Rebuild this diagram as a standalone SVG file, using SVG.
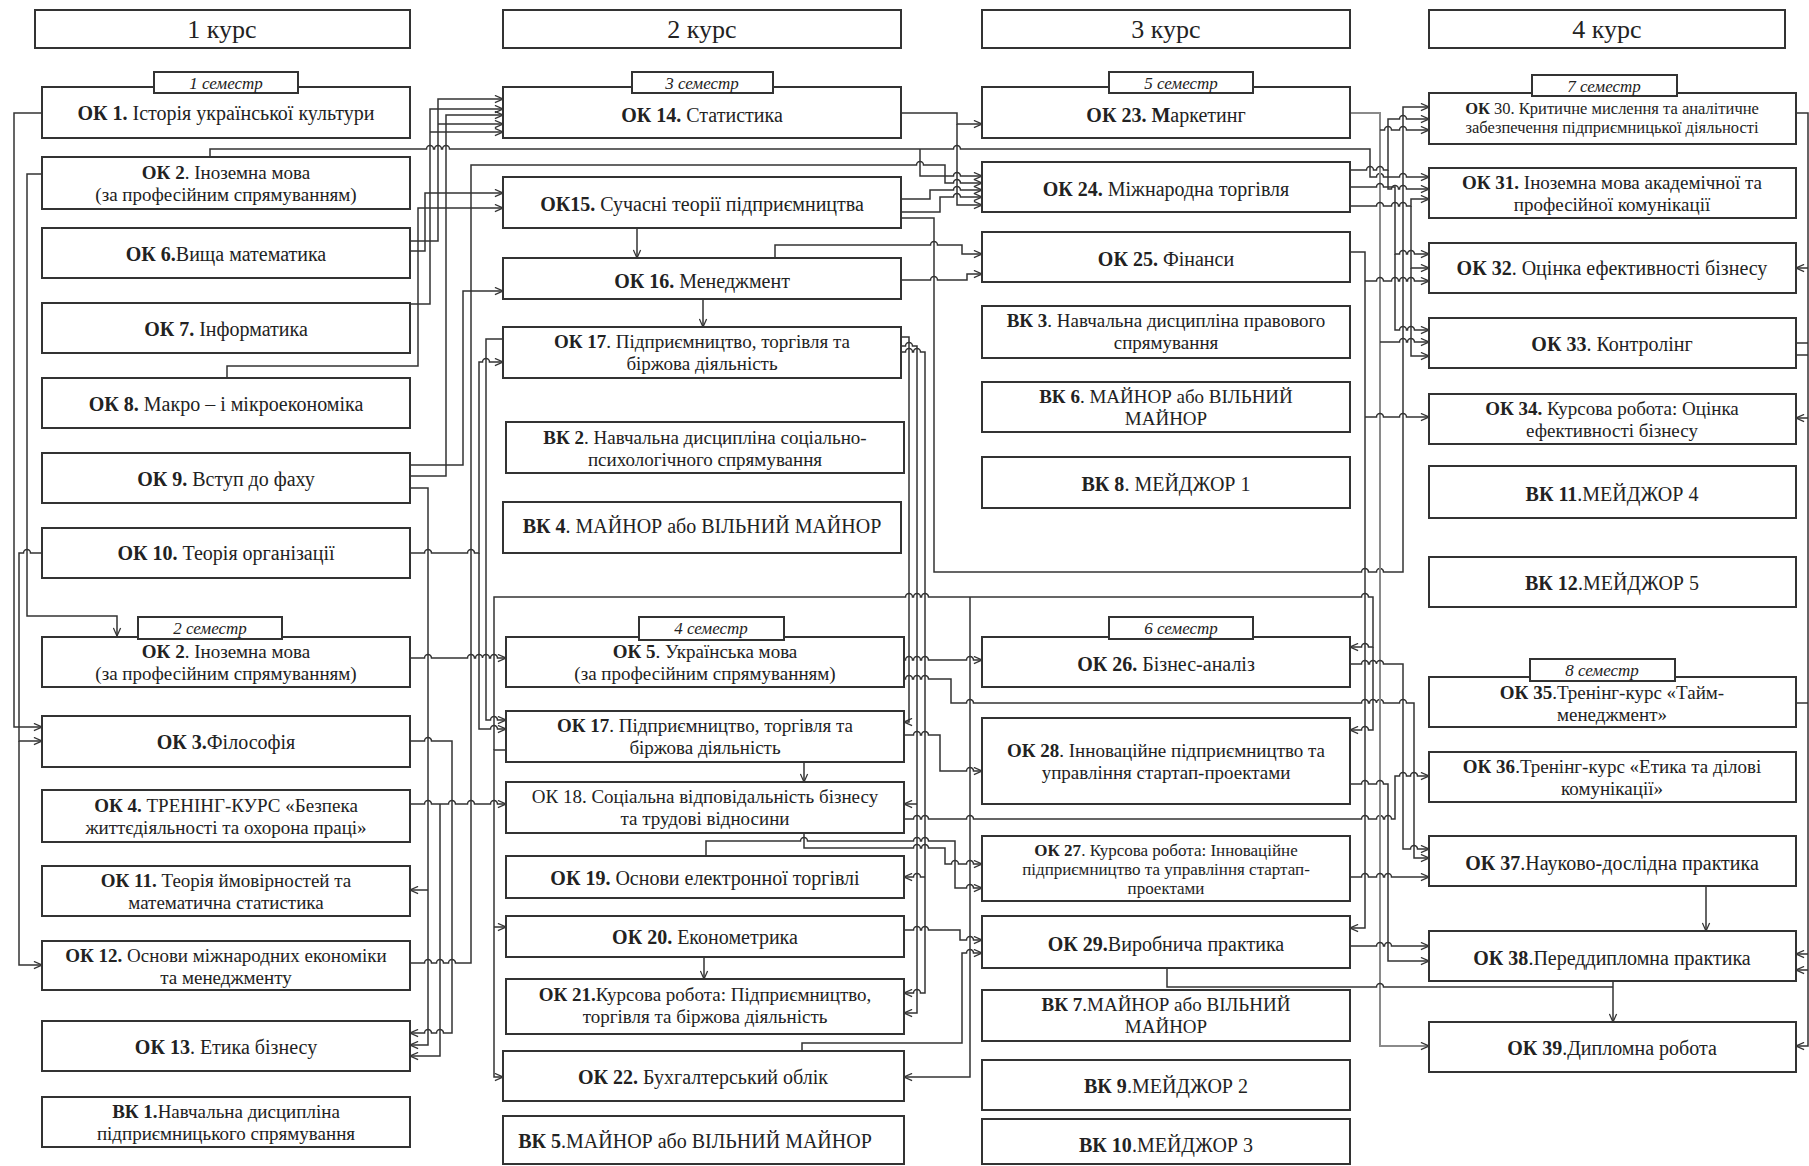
<svg xmlns="http://www.w3.org/2000/svg" width="1809" height="1166" viewBox="0 0 1809 1166">
<style>
.b{fill:#fff;stroke:#333;stroke-width:2}
.t{font-family:"Liberation Serif","Times New Roman",serif;font-size:20px;fill:#222;text-anchor:middle;dominant-baseline:central}
.d{font-size:19px}
.h{font-size:26px}
.s{font-style:italic;font-size:17px}
.m{font-size:17px}
.xs{font-size:16.5px}
.k{font-weight:bold}
.c{fill:none;stroke:#333;stroke-width:1.5}
.g{stroke:#8a8a8a;stroke-width:2}
.a{marker-end:url(#ar)}
</style>
<defs>
<marker id="ar" viewBox="0 0 10 10" refX="10" refY="5" markerWidth="9" markerHeight="9" markerUnits="userSpaceOnUse" orient="auto"><path d="M1,1 L10,5 L1,9" fill="none" stroke="#333" stroke-width="1.4"/></marker>
</defs>
<rect width="1809" height="1166" fill="#fff"/>

<g id="connectors">
<!-- left of column 1 -->
<path class="c a" d="M42,113 H14 V727 H42"/>
<path class="c a" d="M42,174 H27 V616 H117 V636"/>
<path class="c a" d="M42,553 H30.5 a3.5,3.5 0 0 0 -7,0 H19 V741 H42"/>
<path class="c a" d="M19,741 V965 H42"/>
<!-- gap column 1 / column 2 -->
<path class="c a" d="M410,241 H438 V99 H503"/>
<path class="c a" d="M438,124 H503"/>
<path class="c a" d="M410,251 H425 V193 H503"/>
<path class="c a" d="M410,304 H430 V109 H503"/>
<path class="c a" d="M430,132 H503"/>
<path class="c a" d="M227,378 V366 H418 V208 H503"/>
<path class="c a" d="M410,465 H463 V291 H503"/>
<path class="c a" d="M410,476 H446 V115 H503"/>
<path class="c a" d="M410,488 H428 V1045 H410"/>
<path class="c a" d="M428,890 H410"/>
<path class="c a" d="M410,553 H424.5 a3.5,3.5 0 0 1 7,0 H467.5 a3.5,3.5 0 0 1 7,0 H479 V362 H482.5 a3.5,3.5 0 0 1 7,0 H503"/>
<path class="c a" d="M479,553 V729 H490.5 a3.5,3.5 0 0 1 7,0 H506"/>
<path class="c a" d="M210,157 V149 H426.5 a3.5,3.5 0 0 1 7,0 H434.5 a3.5,3.5 0 0 1 7,0 H442.5 a3.5,3.5 0 0 1 7,0 H953.5 a3.5,3.5 0 0 1 7,0 H1370 V177 H1376.5 a3.5,3.5 0 0 1 7,0 H1399.5 a3.5,3.5 0 0 1 7,0 H1429"/>
<path class="c a" d="M410,963 H424.5 a3.5,3.5 0 0 1 7,0 H436.5 a3.5,3.5 0 0 1 7,0 H448.5 a3.5,3.5 0 0 1 7,0 H471 V165 H916.5 a3.5,3.5 0 0 1 7,0 H945 V183 H953.5 a3.5,3.5 0 0 1 7,0 H982"/>
<path class="c a" d="M410,658 H424.5 a3.5,3.5 0 0 1 7,0 H467.5 a3.5,3.5 0 0 1 7,0 H475.5 a3.5,3.5 0 0 1 7,0 H482.5 a3.5,3.5 0 0 1 7,0 H490.5 a3.5,3.5 0 0 1 7,0 H506"/>
<path class="c a" d="M410,741 H424.5 a3.5,3.5 0 0 1 7,0 H452 V1033 H443.5 a3.5,3.5 0 0 0 -7,0 H431.5 a3.5,3.5 0 0 0 -7,0 H410"/>
<path class="c a" d="M410,804 H424.5 a3.5,3.5 0 0 1 7,0 H448.5 a3.5,3.5 0 0 1 7,0 H467.5 a3.5,3.5 0 0 1 7,0 H490.5 a3.5,3.5 0 0 1 7,0 H506"/>
<path class="c a" d="M440,804 V1056 H410"/>
<path class="c a" d="M503,339 H486 V720 H490.5 a3.5,3.5 0 0 1 7,0 H506"/>
<path class="c a" d="M506,750 H494 V1077 H503"/>
<path class="c a" d="M494,927 H506"/>
<path class="c a" d="M494,750 V597 H905.5 a3.5,3.5 0 0 1 7,0 H913.5 a3.5,3.5 0 0 1 7,0 H921.5 a3.5,3.5 0 0 1 7,0 H1361.5 a3.5,3.5 0 0 1 7,0 H1373 V647 H1368.5 a3.5,3.5 0 0 0 -7,0 H1350"/>
<!-- inside column 2 -->
<path class="c a" d="M637,228 V258"/>
<path class="c a" d="M703,299 V327"/>
<path class="c a" d="M804,762 V782"/>
<path class="c a" d="M704,957 V979"/>
<!-- gap column 2 / column 3 -->
<path class="c a" d="M901,113 H957 V124 H982"/>
<path class="c a" d="M957,124 V205 H982"/>
<path class="c a" d="M920,149 V176 H953.5 a3.5,3.5 0 0 1 7,0 H982"/>
<path class="c a" d="M901,199 H930 V190 H953.5 a3.5,3.5 0 0 1 7,0 H982"/>
<path class="c a" d="M901,212 H940 V197 H953.5 a3.5,3.5 0 0 1 7,0 H982"/>
<path class="c a" d="M775,258 V245 H930.5 a3.5,3.5 0 0 1 7,0 H962 V254 H982"/>
<path class="c a" d="M901,280 H930.5 a3.5,3.5 0 0 1 7,0 H967 V274 H982"/>
<path class="c a" d="M901,337 H909 V722 H904"/>
<path class="c a" d="M901,346 H905.5 a3.5,3.5 0 0 1 7,0 H917 V1013 H904"/>
<path class="c a" d="M917,804 H904"/>
<path class="c a" d="M901,352 H905.5 a3.5,3.5 0 0 1 7,0 H913.5 a3.5,3.5 0 0 1 7,0 H925 V993 H920.5 a3.5,3.5 0 0 0 -7,0 H904"/>
<path class="c a" d="M925,877 H920.5 a3.5,3.5 0 0 0 -7,0 H904"/>
<path class="c a" d="M901,218 H934 V572 H1361.5 a3.5,3.5 0 0 1 7,0 H1376.5 a3.5,3.5 0 0 1 7,0 H1403 V107 H1429"/>
<path class="c a" d="M970,597 V1077 H904"/>
<path class="c a" d="M904,660 H905.5 a3.5,3.5 0 0 1 7,0 H913.5 a3.5,3.5 0 0 1 7,0 H921.5 a3.5,3.5 0 0 1 7,0 H966.5 a3.5,3.5 0 0 1 7,0 H982"/>
<path class="c a" d="M904,679 H905.5 a3.5,3.5 0 0 1 7,0 H913.5 a3.5,3.5 0 0 1 7,0 H921.5 a3.5,3.5 0 0 1 7,0 H951 V703 H966.5 a3.5,3.5 0 0 1 7,0 H1361.5 a3.5,3.5 0 0 1 7,0 H1369.5 a3.5,3.5 0 0 1 7,0 H1376.5 a3.5,3.5 0 0 1 7,0 H1399.5 a3.5,3.5 0 0 1 7,0 H1414 V858 H1429"/>
<path class="c a" d="M904,735 H913.5 a3.5,3.5 0 0 1 7,0 H921.5 a3.5,3.5 0 0 1 7,0 H940 V771 H966.5 a3.5,3.5 0 0 1 7,0 H982"/>
<path class="c a" d="M904,819 H913.5 a3.5,3.5 0 0 1 7,0 H921.5 a3.5,3.5 0 0 1 7,0 H966.5 a3.5,3.5 0 0 1 7,0 H1361.5 a3.5,3.5 0 0 1 7,0 H1376.5 a3.5,3.5 0 0 1 7,0 H1384.5 a3.5,3.5 0 0 1 7,0 H1395 V776 H1399.5 a3.5,3.5 0 0 1 7,0 H1410.5 a3.5,3.5 0 0 1 7,0 H1429"/>
<path class="c a" d="M804,833 V848 H913.5 a3.5,3.5 0 0 1 7,0 H921.5 a3.5,3.5 0 0 1 7,0 H945 V864 H951.5 a3.5,3.5 0 0 1 7,0 H966.5 a3.5,3.5 0 0 1 7,0 H982"/>
<path class="c a" d="M706,856 V841 H800.5 a3.5,3.5 0 0 1 7,0 H913.5 a3.5,3.5 0 0 1 7,0 H921.5 a3.5,3.5 0 0 1 7,0 H955 V888 H966.5 a3.5,3.5 0 0 1 7,0 H982"/>
<path class="c a" d="M904,930 H913.5 a3.5,3.5 0 0 1 7,0 H921.5 a3.5,3.5 0 0 1 7,0 H960 V940 H966.5 a3.5,3.5 0 0 1 7,0 H982"/>
<path class="c a" d="M802,1051 V1043 H962 V953 H966.5 a3.5,3.5 0 0 1 7,0 H982"/>
<!-- gap column 3 / column 4 -->
<path class="c g a" d="M1350,113 H1380 V1046 H1429"/>
<path class="c a" d="M1380,130 H1384.5 a3.5,3.5 0 0 1 7,0 H1399.5 a3.5,3.5 0 0 1 7,0 H1429"/>
<path class="c a" d="M1380,342 H1399.5 a3.5,3.5 0 0 1 7,0 H1407.5 a3.5,3.5 0 0 1 7,0 H1429"/>
<path class="c a" d="M1350,170 H1366.5 a3.5,3.5 0 0 1 7,0 H1376.5 a3.5,3.5 0 0 1 7,0 H1388 V119 H1399.5 a3.5,3.5 0 0 1 7,0 H1429"/>
<path class="c a" d="M1388,170 V189 H1391.5 a3.5,3.5 0 0 1 7,0 H1399.5 a3.5,3.5 0 0 1 7,0 H1429"/>
<path class="c a" d="M1350,187 H1376.5 a3.5,3.5 0 0 1 7,0 H1395 V254 H1399.5 a3.5,3.5 0 0 1 7,0 H1407.5 a3.5,3.5 0 0 1 7,0 H1429"/>
<path class="c a" d="M1395,254 V330 H1399.5 a3.5,3.5 0 0 1 7,0 H1407.5 a3.5,3.5 0 0 1 7,0 H1429"/>
<path class="c a" d="M1350,206 H1376.5 a3.5,3.5 0 0 1 7,0 H1391.5 a3.5,3.5 0 0 1 7,0 H1399.5 a3.5,3.5 0 0 1 7,0 H1411 V199 H1429"/>
<path class="c a" d="M1411,206 V268 H1429"/>
<path class="c a" d="M1411,268 V356 H1429"/>
<path class="c a" d="M1350,252 H1365 V928 H1350"/>
<path class="c a" d="M1365,281 H1376.5 a3.5,3.5 0 0 1 7,0 H1391.5 a3.5,3.5 0 0 1 7,0 H1399.5 a3.5,3.5 0 0 1 7,0 H1407.5 a3.5,3.5 0 0 1 7,0 H1429"/>
<path class="c a" d="M1365,417 H1376.5 a3.5,3.5 0 0 1 7,0 H1399.5 a3.5,3.5 0 0 1 7,0 H1429"/>
<path class="c a" d="M1350,664 H1361.5 a3.5,3.5 0 0 1 7,0 H1369.5 a3.5,3.5 0 0 1 7,0 H1376.5 a3.5,3.5 0 0 1 7,0 H1403 V849 H1410.5 a3.5,3.5 0 0 1 7,0 H1429"/>
<path class="c a" d="M1350,784 H1361.5 a3.5,3.5 0 0 1 7,0 H1376.5 a3.5,3.5 0 0 1 7,0 H1388 V961 H1429"/>
<path class="c a" d="M1373,647 V730 H1368.5 a3.5,3.5 0 0 0 -7,0 H1350"/>
<path class="c a" d="M1350,877 H1361.5 a3.5,3.5 0 0 1 7,0 H1376.5 a3.5,3.5 0 0 1 7,0 H1384.5 a3.5,3.5 0 0 1 7,0 H1429"/>
<path class="c a" d="M1350,946 H1376.5 a3.5,3.5 0 0 1 7,0 H1384.5 a3.5,3.5 0 0 1 7,0 H1429"/>
<path class="c" d="M1167,968 V987 H1376.5 a3.5,3.5 0 0 1 7,0 H1613"/>
<path class="c a" d="M1613,981 V1022"/>
<path class="c a" d="M1706,886 V931"/>
<!-- right of column 4 -->
<path class="c a" d="M1796,113 H1808 V1046 H1796"/>
<path class="c a" d="M1808,268 H1796"/>
<path class="c a" d="M1808,418 H1796"/>
<path class="c a" d="M1808,954 H1796"/>
<path class="c a" d="M1808,970 H1796"/>
<path class="c" d="M1796,343 H1808 M1796,355 H1808 M1796,703 H1808"/>
</g>

<!-- headers -->
<g id="h1"><rect class="b" x="35" y="10" width="375" height="38"/><text class="t h" x="222" y="29">1 курс</text></g>
<g id="h2"><rect class="b" x="503" y="10" width="398" height="38"/><text class="t h" x="702" y="29">2 курс</text></g>
<g id="h3"><rect class="b" x="982" y="10" width="368" height="38"/><text class="t h" x="1166" y="29">3 курс</text></g>
<g id="h4"><rect class="b" x="1429" y="10" width="356" height="38"/><text class="t h" x="1607" y="29">4 курс</text></g>

<!-- column 1 -->
<g id="ok1"><rect class="b" x="42" y="87" width="368" height="51"/><text class="t" x="226" y="113"><tspan class="k">ОК 1.</tspan> Історія української культури</text></g>
<g id="ok2a"><rect class="b" x="42" y="157" width="368" height="52"/><text class="t d" x="226" y="172"><tspan class="k">ОК 2</tspan>. Іноземна мова</text><text class="t d" x="226" y="194">(за професійним спрямуванням)</text></g>
<g id="ok6"><rect class="b" x="42" y="228" width="368" height="50"/><text class="t" x="226" y="254"><tspan class="k">ОК 6.</tspan>Вища математика</text></g>
<g id="ok7"><rect class="b" x="42" y="303" width="368" height="50"/><text class="t" x="226" y="329"><tspan class="k">ОК 7.</tspan> Інформатика</text></g>
<g id="ok8"><rect class="b" x="42" y="378" width="368" height="50"/><text class="t" x="226" y="404"><tspan class="k">ОК 8.</tspan> Макро – і мікроекономіка</text></g>
<g id="ok9"><rect class="b" x="42" y="453" width="368" height="50"/><text class="t" x="226" y="479"><tspan class="k">ОК 9.</tspan> Вступ до фаху</text></g>
<g id="ok10"><rect class="b" x="42" y="528" width="368" height="50"/><text class="t" x="226" y="553"><tspan class="k">ОК 10.</tspan> Теорія організації</text></g>
<g id="ok2b"><rect class="b" x="42" y="637" width="368" height="50"/><text class="t d" x="226" y="651"><tspan class="k">ОК 2</tspan>. Іноземна мова</text><text class="t d" x="226" y="673">(за професійним спрямуванням)</text></g>
<g id="ok3"><rect class="b" x="42" y="716" width="368" height="51"/><text class="t" x="226" y="742"><tspan class="k">ОК 3.</tspan>Філософія</text></g>
<g id="ok4"><rect class="b" x="42" y="790" width="368" height="52"/><text class="t d" x="226" y="805"><tspan class="k">ОК 4.</tspan> ТРЕНІНГ-КУРС «Безпека</text><text class="t d" x="226" y="827">життєдіяльності та охорона праці»</text></g>
<g id="ok11"><rect class="b" x="42" y="866" width="368" height="50"/><text class="t d" x="226" y="880"><tspan class="k">ОК 11.</tspan> Теорія ймовірностей та</text><text class="t d" x="226" y="902">математична статистика</text></g>
<g id="ok12"><rect class="b" x="42" y="941" width="368" height="49"/><text class="t d" x="226" y="955"><tspan class="k">ОК 12.</tspan> Основи міжнародних економіки</text><text class="t d" x="226" y="977">та менеджменту</text></g>
<g id="ok13"><rect class="b" x="42" y="1021" width="368" height="50"/><text class="t" x="226" y="1047"><tspan class="k">ОК 13</tspan>. Етика бізнесу</text></g>
<g id="vk1"><rect class="b" x="42" y="1097" width="368" height="50"/><text class="t d" x="226" y="1111"><tspan class="k">ВК 1.</tspan>Навчальна дисципліна</text><text class="t d" x="226" y="1133">підприємницького спрямування</text></g>

<!-- column 2 -->
<g id="ok14"><rect class="b" x="503" y="87" width="398" height="51"/><text class="t" x="702" y="115"><tspan class="k">ОК 14.</tspan> Статистика</text></g>
<g id="ok15"><rect class="b" x="503" y="177" width="398" height="51"/><text class="t" x="702" y="204"><tspan class="k">ОК15.</tspan> Сучасні теорії підприємництва</text></g>
<g id="ok16"><rect class="b" x="503" y="258" width="398" height="41"/><text class="t" x="702" y="281"><tspan class="k">ОК 16.</tspan> Менеджмент</text></g>
<g id="ok17a"><rect class="b" x="503" y="327" width="398" height="51"/><text class="t d" x="702" y="341"><tspan class="k">ОК 17</tspan>. Підприємництво, торгівля та</text><text class="t d" x="702" y="363">біржова діяльність</text></g>
<g id="vk2"><rect class="b" x="506" y="422" width="398" height="51"/><text class="t d" x="705" y="437"><tspan class="k">ВК 2</tspan>. Навчальна дисципліна соціально-</text><text class="t d" x="705" y="459">психологічного спрямування</text></g>
<g id="vk4"><rect class="b" x="503" y="502" width="398" height="51"/><text class="t" x="702" y="526"><tspan class="k">ВК 4</tspan>. МАЙНОР або ВІЛЬНИЙ МАЙНОР</text></g>
<g id="ok5"><rect class="b" x="506" y="637" width="398" height="50"/><text class="t d" x="705" y="651"><tspan class="k">ОК 5</tspan>. Українська мова</text><text class="t d" x="705" y="673">(за професійним спрямуванням)</text></g>
<g id="ok17b"><rect class="b" x="506" y="711" width="398" height="51"/><text class="t d" x="705" y="725"><tspan class="k">ОК 17</tspan>. Підприємництво, торгівля та</text><text class="t d" x="705" y="747">біржова діяльність</text></g>
<g id="ok18"><rect class="b" x="506" y="782" width="398" height="51"/><text class="t d" x="705" y="796">ОК 18. Соціальна відповідальність бізнесу</text><text class="t d" x="705" y="818">та трудові відносини</text></g>
<g id="ok19"><rect class="b" x="506" y="856" width="398" height="42"/><text class="t" x="705" y="878"><tspan class="k">ОК 19.</tspan> Основи електронної торгівлі</text></g>
<g id="ok20"><rect class="b" x="506" y="916" width="398" height="41"/><text class="t" x="705" y="937"><tspan class="k">ОК 20.</tspan> Економетрика</text></g>
<g id="ok21"><rect class="b" x="506" y="979" width="398" height="55"/><text class="t d" x="705" y="994"><tspan class="k">ОК 21.</tspan>Курсова робота: Підприємництво,</text><text class="t d" x="705" y="1016">торгівля та біржова діяльність</text></g>
<g id="ok22"><rect class="b" x="503" y="1051" width="401" height="50"/><text class="t" x="703" y="1077"><tspan class="k">ОК 22.</tspan> Бухгалтерський облік</text></g>
<g id="vk5"><rect class="b" x="503" y="1116" width="401" height="48"/><text class="t" x="695" y="1141"><tspan class="k">ВК 5</tspan>.МАЙНОР або ВІЛЬНИЙ МАЙНОР</text></g>

<!-- column 3 -->
<g id="ok23"><rect class="b" x="982" y="87" width="368" height="51"/><text class="t" x="1166" y="115"><tspan class="k">ОК 23. М</tspan>аркетинг</text></g>
<g id="ok24"><rect class="b" x="982" y="162" width="368" height="50"/><text class="t" x="1166" y="189"><tspan class="k">ОК 24.</tspan> Міжнародна торгівля</text></g>
<g id="ok25"><rect class="b" x="982" y="232" width="368" height="50"/><text class="t" x="1166" y="259"><tspan class="k">ОК 25.</tspan>  Фінанси</text></g>
<g id="vk3"><rect class="b" x="982" y="306" width="368" height="52"/><text class="t d" x="1166" y="320"><tspan class="k">ВК 3</tspan>. Навчальна дисципліна правового</text><text class="t d" x="1166" y="342">спрямування</text></g>
<g id="vk6"><rect class="b" x="982" y="382" width="368" height="50"/><text class="t d" x="1166" y="396"><tspan class="k">ВК 6</tspan>. МАЙНОР або ВІЛЬНИЙ</text><text class="t d" x="1166" y="418">МАЙНОР</text></g>
<g id="vk8"><rect class="b" x="982" y="457" width="368" height="51"/><text class="t" x="1166" y="484"><tspan class="k">ВК 8</tspan>. МЕЙДЖОР 1</text></g>
<g id="ok26"><rect class="b" x="982" y="637" width="368" height="50"/><text class="t" x="1166" y="664"><tspan class="k">ОК 26.</tspan> Бізнес-аналіз</text></g>
<g id="ok28"><rect class="b" x="982" y="718" width="368" height="86"/><text class="t d" x="1166" y="750"><tspan class="k">ОК 28</tspan>. Інноваційне підприємництво та</text><text class="t d" x="1166" y="772">управління стартап-проектами</text></g>
<g id="ok27"><rect class="b" x="982" y="836" width="368" height="65"/><text class="t m" x="1166" y="850"><tspan class="k">ОК 27</tspan>. Курсова робота: Інноваційне</text><text class="t m" x="1166" y="869">підприємництво та управління стартап-</text><text class="t m" x="1166" y="888">проектами</text></g>
<g id="ok29"><rect class="b" x="982" y="916" width="368" height="52"/><text class="t" x="1166" y="944"><tspan class="k">ОК 29.</tspan>Виробнича практика</text></g>
<g id="vk7"><rect class="b" x="982" y="990" width="368" height="51"/><text class="t d" x="1166" y="1004"><tspan class="k">ВК 7</tspan>.МАЙНОР або ВІЛЬНИЙ</text><text class="t d" x="1166" y="1026">МАЙНОР</text></g>
<g id="vk9"><rect class="b" x="982" y="1060" width="368" height="50"/><text class="t" x="1166" y="1086"><tspan class="k">ВК 9</tspan>.МЕЙДЖОР 2</text></g>
<g id="vk10"><rect class="b" x="982" y="1119" width="368" height="45"/><text class="t" x="1166" y="1145"><tspan class="k">ВК 10</tspan>.МЕЙДЖОР 3</text></g>

<!-- column 4 -->
<g id="ok30"><rect class="b" x="1429" y="93" width="367" height="51"/><text class="t xs" x="1612" y="108"><tspan class="k">ОК</tspan> 30. Критичне мислення та аналітичне</text><text class="t xs" x="1612" y="127">забезпечення підприємницької діяльності</text></g>
<g id="ok31"><rect class="b" x="1429" y="168" width="367" height="50"/><text class="t d" x="1612" y="182"><tspan class="k">ОК 31.</tspan> Іноземна мова академічної та</text><text class="t d" x="1612" y="204">професійної комунікації</text></g>
<g id="ok32"><rect class="b" x="1429" y="243" width="367" height="50"/><text class="t" x="1612" y="268"><tspan class="k">ОК 32</tspan>. Оцінка ефективності бізнесу</text></g>
<g id="ok33"><rect class="b" x="1429" y="318" width="367" height="50"/><text class="t" x="1612" y="344"><tspan class="k">ОК 33</tspan>. Контролінг</text></g>
<g id="ok34"><rect class="b" x="1429" y="394" width="367" height="50"/><text class="t d" x="1612" y="408"><tspan class="k">ОК 34.</tspan> Курсова робота: Оцінка</text><text class="t d" x="1612" y="430">ефективності бізнесу</text></g>
<g id="vk11"><rect class="b" x="1429" y="466" width="367" height="52"/><text class="t" x="1612" y="494"><tspan class="k">ВК 11</tspan>.МЕЙДЖОР 4</text></g>
<g id="vk12"><rect class="b" x="1429" y="557" width="367" height="50"/><text class="t" x="1612" y="583"><tspan class="k">ВК 12</tspan>.МЕЙДЖОР 5</text></g>
<g id="ok35"><rect class="b" x="1429" y="677" width="367" height="50"/><text class="t d" x="1612" y="692"><tspan class="k">ОК 35</tspan>.Тренінг-курс «Тайм-</text><text class="t d" x="1612" y="714">менеджмент»</text></g>
<g id="ok36"><rect class="b" x="1429" y="752" width="367" height="50"/><text class="t d" x="1612" y="766"><tspan class="k">ОК 36</tspan>.Тренінг-курс «Етика та ділові</text><text class="t d" x="1612" y="788">комунікації»</text></g>
<g id="ok37"><rect class="b" x="1429" y="836" width="367" height="50"/><text class="t" x="1612" y="863"><tspan class="k">ОК 37</tspan>.Науково-дослідна практика</text></g>
<g id="ok38"><rect class="b" x="1429" y="931" width="367" height="50"/><text class="t" x="1612" y="958"><tspan class="k">ОК 38</tspan>.Переддипломна практика</text></g>
<g id="ok39"><rect class="b" x="1429" y="1022" width="367" height="50"/><text class="t" x="1612" y="1048"><tspan class="k">ОК 39</tspan>.Дипломна робота</text></g>

<!-- semester tags -->
<g id="sem1"><rect class="b" x="154" y="72" width="144" height="21"/><text class="t s" x="226" y="83">1 семестр</text></g>
<g id="sem2"><rect class="b" x="138" y="617" width="144" height="22"/><text class="t s" x="210" y="628">2 семестр</text></g>
<g id="sem3"><rect class="b" x="632" y="72" width="141" height="21"/><text class="t s" x="702" y="83">3 семестр</text></g>
<g id="sem4"><rect class="b" x="639" y="617" width="145" height="23"/><text class="t s" x="711" y="628">4 семестр</text></g>
<g id="sem5"><rect class="b" x="1109" y="72" width="144" height="21"/><text class="t s" x="1181" y="83">5 семестр</text></g>
<g id="sem6"><rect class="b" x="1109" y="617" width="144" height="22"/><text class="t s" x="1181" y="628">6 семестр</text></g>
<g id="sem7"><rect class="b" x="1532" y="75" width="145" height="21"/><text class="t s" x="1604" y="86">7 семестр</text></g>
<g id="sem8"><rect class="b" x="1530" y="659" width="145" height="22"/><text class="t s" x="1602" y="670">8 семестр</text></g>
</svg>
